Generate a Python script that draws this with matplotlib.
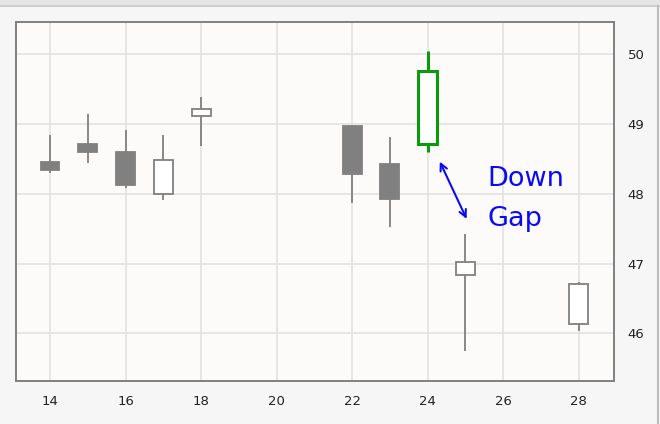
import matplotlib
matplotlib.use("Agg")
import matplotlib.pyplot as plt
from matplotlib.patches import Rectangle, FancyArrowPatch

# candle data
days = [14, 15, 16, 17, 18, 22, 23, 24, 25, 28]
opens = [48.46, 48.71, 48.60, 48.00, 49.11, 48.97, 48.42, 48.71, 46.84, 46.14]
highs = [48.84, 49.14, 48.91, 48.84, 49.38, 48.99, 48.81, 50.05, 47.43, 46.74]
lows = [48.30, 48.44, 48.08, 47.91, 48.68, 47.87, 47.52, 48.60, 45.75, 46.04]
closes = [48.34, 48.60, 48.13, 48.48, 49.21, 48.28, 47.93, 49.76, 47.03, 46.71]
highlight_day = 24

x_ticks = [14, 16, 18, 20, 22, 24, 26, 28]
y_ticks = [46, 47, 48, 49, 50]

gray = "#808080"
green = "#0a9a0a"
blue = "#0a0af5"

fig = plt.figure(figsize=(6.6, 4.24), dpi=100, facecolor="#f6f6f6")
# thin gray band at the top and frame on the right
fig.patches.append(Rectangle((0, 0.988), 1, 0.012, transform=fig.transFigure,
                             facecolor="#e4e4e4", edgecolor="none"))
fig.add_artist(plt.Line2D([0, 1], [0.986, 0.986], transform=fig.transFigure, color="#cfcfcf", lw=1.5))
fig.add_artist(plt.Line2D([0.997, 0.997], [0, 0.986], transform=fig.transFigure, color="#bdbdbd", lw=1.5))

ax = fig.add_axes([0.0242, 0.1014, 0.906, 0.847])
ax.set_facecolor("#fdfbfa")

w = 0.5
for d, o, h, l, c in zip(days, opens, highs, lows, closes):
    if d == highlight_day:
        col, lw = green, 2.2
    else:
        col, lw = gray, 1.3
    ax.plot([d, d], [l, h], color=col, lw=lw, zorder=2, solid_capstyle="butt")
    face = col if c < o else "white"
    ax.add_patch(Rectangle((d - w / 2, min(o, c)), w, abs(c - o),
                           facecolor=face, edgecolor=col, lw=lw, zorder=3))

# the gap between day 24 and day 25
arrow = FancyArrowPatch((24.32, 48.46), (25.03, 47.64), arrowstyle="<->,head_length=5,head_width=2.5",
                        color=blue, lw=1.5, zorder=4, shrinkA=0, shrinkB=0)
ax.add_patch(arrow)
ax.text(25.58, 48.21, "Down", color=blue, fontsize=19.5, va="center", ha="left")
ax.text(25.58, 47.64, "Gap", color=blue, fontsize=19.5, va="center", ha="left")

ax.set_xlim(13.1, 28.93)
ax.set_ylim(45.32, 50.46)
ax.set_xticks(x_ticks)
ax.set_yticks(y_ticks)
ax.yaxis.tick_right()
ax.tick_params(length=0, labelsize=9.5, colors="#222222", pad=10)
ax.grid(True, color="#e2e2e2", lw=1.2)
ax.set_axisbelow(True)
for s in ax.spines.values():
    s.set_color(gray)
    s.set_linewidth(1.4)

fig.savefig("out.png", dpi=100, facecolor=fig.get_facecolor())
